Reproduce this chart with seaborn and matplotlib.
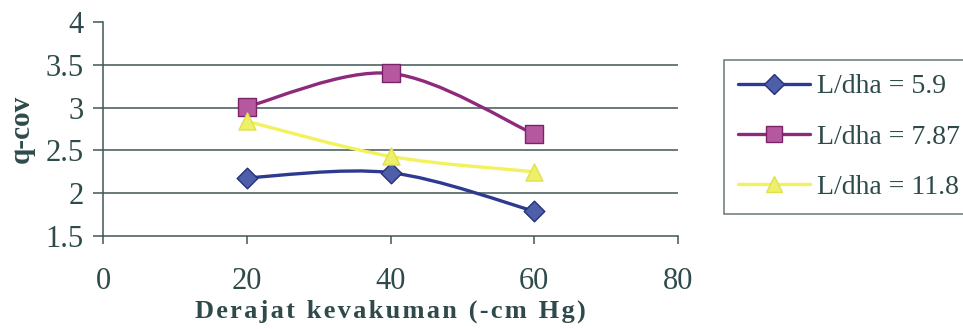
import matplotlib
matplotlib.use("Agg")
import matplotlib.pyplot as plt
from matplotlib.path import Path
from matplotlib.patches import PathPatch
from matplotlib.lines import Line2D
import numpy as np
import pandas as pd
import seaborn as sns

# Vacuum level (-cm Hg) and q-cov for each L/dha ratio
vacuum = [20, 40, 60]
q_59 = [2.18, 2.24, 1.79]
q_787 = [3.01, 3.40, 2.69]
q_118 = [2.84, 2.43, 2.25]
series_labels = ["L/dha = 5.9", "L/dha = 7.87", "L/dha = 11.8"]
x_ticks = [0, 20, 40, 60, 80]
y_ticks = [1.5, 2, 2.5, 3, 3.5, 4]

line_colors = ["#2E3A8F", "#8E2A7C", "#F2F25E"]
fill_colors = ["#4C5FA8", "#B5589F", "#EEF06A"]
edge_colors = ["#26307A", "#7A2468", "#E0E050"]
marker_shapes = ["D", "s", "^"]
marker_sizes = [110, 150, 150]
text_color = "#2F4A4A"

df = pd.DataFrame({
    "vacuum": vacuum * 3,
    "q": q_59 + q_787 + q_118,
    "series": sum([[s] * len(vacuum) for s in series_labels], []),
})

sns.set_theme(style="white")
plt.rcParams["font.family"] = ["Liberation Serif", "DejaVu Serif"]
plt.rcParams["text.color"] = text_color

fig = plt.figure(figsize=(9.63, 3.29), dpi=100)
ax = fig.add_axes([103 / 963, 1 - 236 / 329, 575 / 963, 214 / 329])


def smooth_path(xs, ys):
    """Catmull-Rom style cubic Bezier through the points (spreadsheet 'smoothed line')."""
    pts = np.column_stack([xs, ys]).astype(float)
    n = len(pts)
    verts = [pts[0]]
    codes = [Path.MOVETO]
    for i in range(n - 1):
        p0 = pts[i - 1] if i > 0 else pts[i]
        p1 = pts[i]
        p2 = pts[i + 1]
        p3 = pts[i + 2] if i + 2 < n else pts[i + 1]
        c1 = p1 + (p2 - p0) / 6.0
        c2 = p2 - (p3 - p1) / 6.0
        verts += [c1, c2, p2]
        codes += [Path.CURVE4] * 3
    return Path(verts, codes)


for lab, lc in zip(series_labels, line_colors):
    sub = df[df["series"] == lab]
    ax.add_patch(PathPatch(smooth_path(sub["vacuum"], sub["q"]), fill=False,
                           edgecolor=lc, lw=2.4, zorder=3, capstyle="round"))

for lab, fc, ec, mk, ms in zip(series_labels, fill_colors, edge_colors,
                               marker_shapes, marker_sizes):
    sub = df[df["series"] == lab]
    sns.scatterplot(data=sub, x="vacuum", y="q", marker=mk, s=ms, color=fc,
                    edgecolor=ec, linewidth=1.0, ax=ax, zorder=4, legend=False)

ax.set_xlim(0, 80)
ax.set_ylim(1.5, 4)
ax.set_xticks(x_ticks)
ax.set_yticks(y_ticks)
ax.set_xticklabels([str(v) for v in x_ticks])
ax.set_yticklabels([f"{v:g}" for v in y_ticks])

# horizontal gridlines except at the top
for yv in y_ticks[1:-1]:
    ax.axhline(yv, color="#3F5656", lw=1.1, zorder=1)

for side in ["top", "right"]:
    ax.spines[side].set_visible(False)
for side in ["left", "bottom"]:
    ax.spines[side].set_color("#3F5656")
    ax.spines[side].set_linewidth(1.1)

ax.tick_params(axis="x", direction="out", length=6, width=1.1, color="#3F5656",
               pad=16, labelsize=22, labelcolor=text_color, bottom=True)
ax.tick_params(axis="y", direction="out", length=7, width=1.1, color="#3F5656",
               pad=7, labelsize=22, labelcolor=text_color, left=True)
for lbl in ax.get_xticklabels() + ax.get_yticklabels():
    lbl.set_fontfamily(["Liberation Serif", "DejaVu Serif"])

xlabel = "\u200a".join("Derajat kevakuman (-cm Hg)").replace("\u200a \u200a", "\u2009 ")
ax.set_xlabel(xlabel, fontsize=19, fontweight="bold", color=text_color, labelpad=3)
ax.set_ylabel("q-cov", fontsize=21, fontweight="bold", color=text_color, labelpad=8)
ax.set_facecolor("white")

handles = [
    Line2D([0], [0], color=lc, lw=2.4, marker=mk, markersize=ms ** 0.5 * 0.95,
           markerfacecolor=fc, markeredgecolor=ec)
    for lc, fc, ec, mk, ms in zip(line_colors, fill_colors, edge_colors,
                                  marker_shapes, marker_sizes)
]
leg = fig.legend(handles, series_labels, loc="upper left",
                 bbox_to_anchor=(724 / 963, 1 - 60 / 329), fontsize=20,
                 frameon=True, fancybox=False, handlelength=2.6,
                 handletextpad=0.25, labelspacing=0.9, borderpad=0.5,
                 borderaxespad=0)
leg.get_frame().set_edgecolor("#3F5656")
leg.get_frame().set_linewidth(1.1)
for t in leg.get_texts():
    t.set_color(text_color)

fig.savefig("out.png", dpi=100, facecolor="white")
